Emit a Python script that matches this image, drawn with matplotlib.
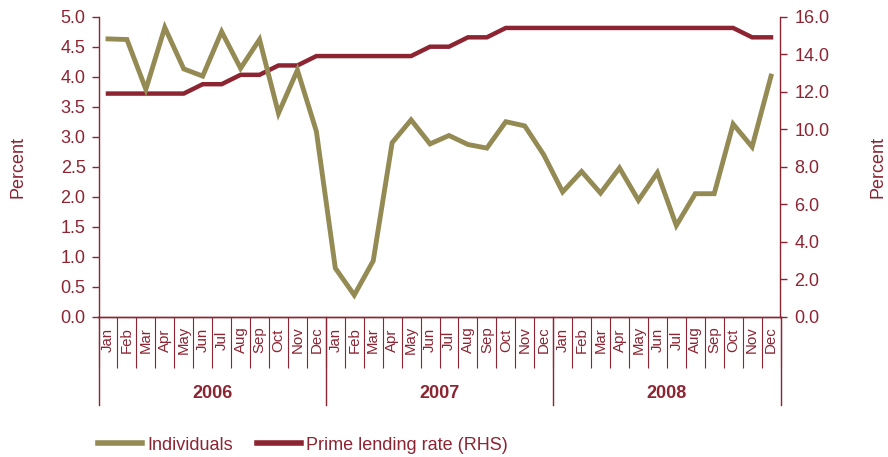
import numpy as np
import matplotlib
matplotlib.use("Agg")
from matplotlib import pyplot as plt
from matplotlib import transforms

plt.rcParams['font.family'] = ['Liberation Sans', 'DejaVu Sans']

#%% data
months = ["Jan", "Feb", "Mar", "Apr", "May", "Jun",
          "Jul", "Aug", "Sep", "Oct", "Nov", "Dec"]
years = ["2006", "2007", "2008"]

individuals = [4.63, 4.62, 3.79, 4.82, 4.13, 4.01, 4.75, 4.14, 4.62, 3.39, 4.11, 3.09,
               0.81, 0.36, 0.93, 2.90, 3.28, 2.88, 3.02, 2.87, 2.81, 3.25, 3.18, 2.70,
               2.08, 2.42, 2.06, 2.48, 1.94, 2.40, 1.52, 2.05, 2.05, 3.21, 2.83, 4.01]

prime_rate = [11.9, 11.9, 11.9, 11.9, 11.9, 12.4, 12.4, 12.9, 12.9, 13.4, 13.4, 13.9,
              13.9, 13.9, 13.9, 13.9, 13.9, 14.4, 14.4, 14.9, 14.9, 15.4, 15.4, 15.4,
              15.4, 15.4, 15.4, 15.4, 15.4, 15.4, 15.4, 15.4, 15.4, 15.4, 14.9, 14.9]

#%% style
red = "#8C2432"
olive = "#948A54"
fs = 13

W, H = 888, 457
fig = plt.figure(figsize=(W / 100, H / 100), dpi=100)
ax = fig.add_axes([98.5 / W, (H - 316.7) / H, (780.5 - 98.5) / W, 300 / H])
ax2 = ax.twinx()

x = np.arange(len(individuals))
l1, = ax.plot(x, individuals, color=olive, lw=3.5, solid_joinstyle="miter", zorder=3)
l2, = ax2.plot(x, prime_rate, color=red, lw=3.2, solid_joinstyle="miter", zorder=3)
ax.set_zorder(ax2.get_zorder() + 1)
ax.patch.set_visible(False)

ax.set_xlim(-0.5, len(x) - 0.5)
ax.set_ylim(0, 5)
ax2.set_ylim(0, 16)
ax.set_yticks(np.arange(0, 5.01, 0.5))
ax.set_yticklabels(["%.1f" % v for v in np.arange(0, 5.01, 0.5)])
ax2.set_yticks(np.arange(0, 16.1, 2))
ax2.set_yticklabels(["%.1f" % v for v in np.arange(0, 16.1, 2)])

for a in (ax, ax2):
    a.spines["top"].set_visible(False)
    for s in a.spines.values():
        s.set_color(red)
        s.set_linewidth(1.0)
    a.tick_params(axis="y", colors=red, labelsize=fs, length=5, width=1.0)
ax.tick_params(axis="y", pad=4.3)
ax2.tick_params(axis="y", pad=5)
ax2.spines["left"].set_visible(False)
ax.spines["right"].set_visible(False)

# category axis: month separators and month / year labels
ax.set_xticks([])
bounds = np.arange(-0.5, len(x), 1.0)
ax.set_xticks(bounds, minor=True)
ax.tick_params(axis="x", which="minor", length=36.7, width=0.8, color=red,
               direction="out", labelbottom=False)
ax2.set_xticks([])

trans = transforms.blended_transform_factory(ax.transData, ax.transAxes)
for yb in (-0.5, 11.5, 23.5, 35.5):
    ax.plot([yb, yb], [0, -88 / 300], transform=trans, color=red, lw=1.0, clip_on=False)

for i in x:
    ax.annotate(months[i % 12], xy=(i, 0), xycoords=trans, xytext=(0, -16.8),
                textcoords="offset points", rotation=90, ha="center", va="center",
                color=red, fontsize=10.8)
for k, yr in enumerate(years):
    ax.annotate(yr, xy=(k * 12 + 5.5, 0), xycoords=trans, xytext=(0, -55),
                textcoords="offset points", ha="center", va="center",
                color=red, fontsize=fs, fontweight="bold")

fig.text(17.5 / W, 1 - 167 / H, "Percent", rotation=90, ha="center", va="center",
         color=red, fontsize=fs)
fig.text(878 / W, 1 - 167 / H, "Percent", rotation=90, ha="center", va="center",
         color=red, fontsize=fs)

leg = fig.legend([l1, l2], ["Individuals", "Prime lending rate (RHS)"],
                 loc="center left", bbox_to_anchor=(98 / W, 1 - 445 / H),
                 ncol=2, frameon=False, fontsize=fs, handlelength=2.45,
                 handletextpad=0.3, columnspacing=1.3, borderpad=0, borderaxespad=0)
for t in leg.get_texts():
    t.set_color(red)
for h in leg.legend_handles:
    h.set_linewidth(4)

fig.savefig("out.png", dpi=100)
